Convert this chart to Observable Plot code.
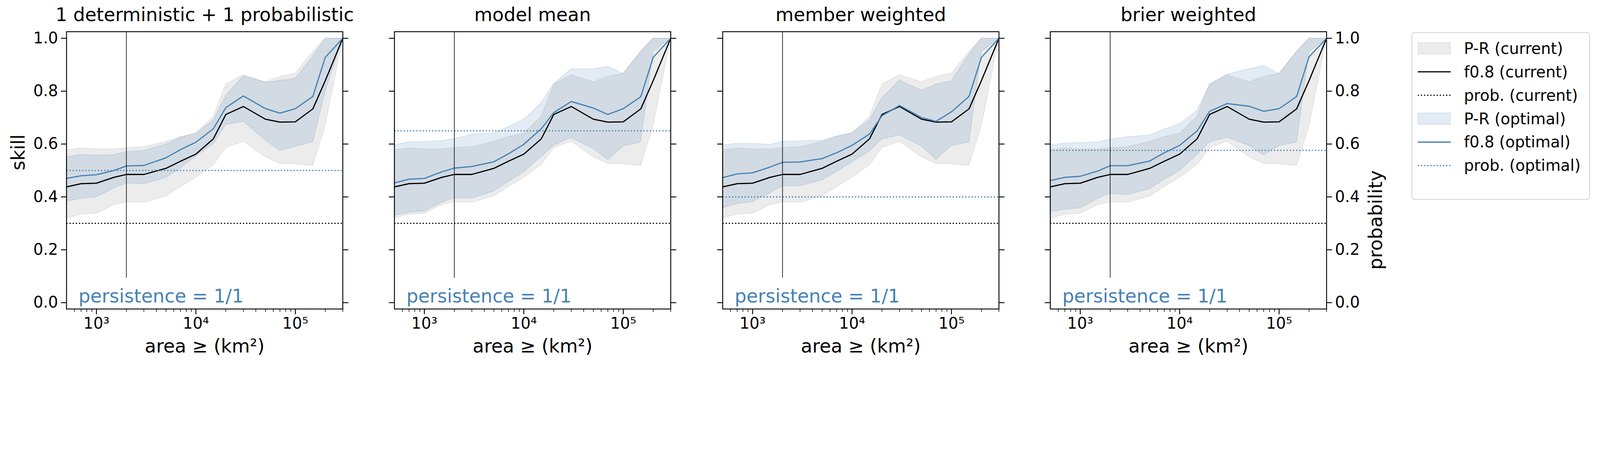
<!DOCTYPE html>
<html>
<head>
<meta charset="utf-8">
<script src="https://cdn.jsdelivr.net/npm/d3@7"></script>
<script src="https://cdn.jsdelivr.net/npm/@observablehq/plot@0.6"></script>
<style>
  html, body { margin: 0; background: #fff; font-family: "DejaVu Sans", sans-serif; overflow: hidden; }
  #chart { position: relative; width: 5328px; height: 1218px; transform-origin: 0 0; }
  #chart svg { position: absolute; top: 0; font-family: "DejaVu Sans", sans-serif; max-width: none; }
  .legend { position: absolute; left: 4700px; top: 107px; width: 595px; height: 558px;
    border: 3px solid #d6d6d6; border-radius: 10px; box-sizing: border-box; font-size: 52px; }
  .legend .row { position: absolute; left: 18px; height: 78px; display: flex; align-items: center; }
  .legend .row span { margin-left: 44px; white-space: nowrap; }
</style>
</head>
<body>
<div id="chart"></div>
<script>
// x positions (km²)
const area = [500, 700, 1000, 1500, 2000, 3000, 5000, 7000, 1e4, 1.5e4, 2e4, 3e4, 5e4, 7e4, 1e5, 1.5e5, 2e5, 3e5];

// current setup (same in every panel)
const curLine = [0.438, 0.45, 0.452, 0.474, 0.485, 0.485, 0.508, 0.535, 0.562, 0.62, 0.712, 0.742, 0.694, 0.683, 0.684, 0.733, 0.84, 1.0];
const curLo = [0.319, 0.334, 0.337, 0.37, 0.381, 0.379, 0.403, 0.438, 0.474, 0.521, 0.586, 0.61, 0.551, 0.526, 0.524, 0.518, 0.668, 1.0];
const curHi = [0.577, 0.585, 0.581, 0.581, 0.586, 0.59, 0.609, 0.628, 0.641, 0.705, 0.826, 0.862, 0.835, 0.856, 0.867, 0.95, 1.0, 1.0];
const curProb = 0.3;

// optimal, per panel
const titles = ["1 deterministic + 1 probabilistic", "model mean", "member weighted", "brier weighted"];
const optProb = [0.5, 0.65, 0.4, 0.576];
const optLine = [
  [0.47, 0.48, 0.484, 0.5, 0.517, 0.519, 0.548, 0.579, 0.607, 0.658, 0.738, 0.782, 0.734, 0.717, 0.734, 0.78, 0.928, 1.0],
  [0.453, 0.467, 0.47, 0.495, 0.509, 0.515, 0.533, 0.563, 0.599, 0.658, 0.719, 0.761, 0.736, 0.712, 0.734, 0.779, 0.928, 1.0],
  [0.473, 0.487, 0.491, 0.513, 0.531, 0.532, 0.545, 0.567, 0.595, 0.638, 0.707, 0.746, 0.7, 0.686, 0.722, 0.78, 0.928, 1.0],
  [0.462, 0.474, 0.478, 0.498, 0.518, 0.518, 0.536, 0.567, 0.595, 0.65, 0.724, 0.753, 0.743, 0.724, 0.734, 0.78, 0.93, 1.0]
];
const optLo = [
  [0.384, 0.394, 0.4, 0.434, 0.452, 0.449, 0.474, 0.509, 0.555, 0.601, 0.674, 0.685, 0.615, 0.575, 0.591, 0.608, 0.8, 1.0],
  [0.329, 0.342, 0.346, 0.379, 0.397, 0.395, 0.422, 0.458, 0.495, 0.553, 0.596, 0.624, 0.582, 0.541, 0.592, 0.607, 0.95, 1.0],
  [0.358, 0.375, 0.381, 0.415, 0.442, 0.442, 0.464, 0.496, 0.532, 0.573, 0.619, 0.634, 0.592, 0.542, 0.594, 0.607, 0.95, 1.0],
  [0.344, 0.353, 0.358, 0.394, 0.413, 0.408, 0.431, 0.466, 0.5, 0.56, 0.608, 0.625, 0.594, 0.558, 0.594, 0.607, 0.95, 1.0]
];
const optHi = [
  [0.551, 0.56, 0.557, 0.559, 0.571, 0.575, 0.599, 0.625, 0.639, 0.69, 0.784, 0.857, 0.833, 0.84, 0.848, 0.932, 1.0, 1.0],
  [0.596, 0.608, 0.608, 0.613, 0.62, 0.636, 0.641, 0.665, 0.693, 0.756, 0.828, 0.884, 0.884, 0.893, 0.866, 0.95, 1.0, 1.0],
  [0.596, 0.602, 0.602, 0.598, 0.609, 0.611, 0.614, 0.63, 0.643, 0.69, 0.775, 0.841, 0.803, 0.826, 0.839, 0.94, 1.0, 1.0],
  [0.596, 0.603, 0.605, 0.607, 0.618, 0.627, 0.634, 0.656, 0.676, 0.727, 0.825, 0.864, 0.884, 0.896, 0.866, 0.95, 1.0, 1.0]
];

const majorTicks = [1e3, 1e4, 1e5];
const minorTicks = [600, 700, 800, 900, 2000, 3000, 4000, 5000, 6000, 7000, 8000, 9000,
  2e4, 3e4, 4e4, 5e4, 6e4, 7e4, 8e4, 9e4, 2e5, 3e5];
const yTicks = [0, 0.2, 0.4, 0.6, 0.8, 1.0];

const blue = "#4682b4";
const plotLefts = [221, 1313, 2406, 3497];
const plotWidth = 920;
const sup = { "3": "³", "4": "⁴", "5": "⁵" };

const chart = document.getElementById("chart");
// fit the 5328px-wide layout to whatever the viewport really is
chart.style.transform = `scale(${window.innerWidth / 5328})`;

titles.forEach((title, i) => {
  const mL = i === 0 ? 221 : 60;
  const mR = i === 3 ? 260 : 60;
  const cur = area.map((a, k) => ({ a, v: curLine[k], lo: curLo[k], hi: curHi[k] }));
  const opt = area.map((a, k) => ({ a, v: optLine[i][k], lo: optLo[i][k], hi: optHi[i][k] }));
  const blank = () => "";

  const plot = Plot.plot({
    width: mL + plotWidth + mR,
    height: 1218,
    marginTop: 105,
    marginBottom: 190,
    marginLeft: mL,
    marginRight: mR,
    style: { fontSize: "52px", fontFamily: "DejaVu Sans", overflow: "visible" },
    x: { type: "log", domain: [500, 3e5], axis: null, label: null },
    y: { domain: [-0.024, 1.025], axis: null, label: null },
    marks: [
      Plot.areaY(cur, { x: "a", y1: "lo", y2: "hi", fill: "grey", fillOpacity: 0.15, stroke: "grey", strokeOpacity: 0.12, strokeWidth: 3 }),
      Plot.areaY(opt, { x: "a", y1: "lo", y2: "hi", fill: blue, fillOpacity: 0.15, stroke: blue, strokeOpacity: 0.15, strokeWidth: 3 }),
      Plot.line(cur, { x: "a", y: "v", stroke: "black", strokeWidth: 4 }),
      Plot.line(opt, { x: "a", y: "v", stroke: blue, strokeWidth: 4 }),
      Plot.ruleY([curProb], { stroke: "black", strokeWidth: 4, strokeDasharray: "4 6.5" }),
      Plot.ruleY([optProb[i]], { stroke: blue, strokeWidth: 4, strokeDasharray: "4 6.5" }),
      Plot.ruleX([2000], { y1: 0.094, y2: 1.025, stroke: "black", strokeWidth: 2 }),
      Plot.text(["persistence = 1/1"], { frameAnchor: "bottom-left", dx: 40, dy: -22, fill: blue, fontSize: 62 }),
      Plot.frame({ stroke: "black", strokeWidth: 3 }),
      Plot.axisX(majorTicks, { label: null, tickSize: 18, strokeWidth: 3, tickPadding: 10, fontSize: 52, tickFormat: d => "10" + sup[String(Math.round(Math.log10(d)))] }),
      Plot.axisX(minorTicks, { label: null, tickSize: 10, strokeWidth: 2, tickFormat: blank }),
      Plot.axisY(yTicks, { label: null, anchor: "left", tickSize: 18, strokeWidth: 3, tickPadding: 10, fontSize: 52, tickFormat: i === 0 ? d3.format(".1f") : blank }),
      Plot.axisY(yTicks, { label: null, anchor: "right", tickSize: 18, strokeWidth: 3, tickPadding: 10, fontSize: 52, tickFormat: i === 3 ? d3.format(".1f") : blank }),
      Plot.text([title], { frameAnchor: "top", dy: -55, fontSize: 62, lineAnchor: "middle" }),
      Plot.text(["area ≥ (km²)"], { frameAnchor: "bottom", dy: 125, fontSize: 62, lineAnchor: "middle" }),
      i === 0 ? Plot.text(["skill"], { frameAnchor: "left", dx: -160, rotate: -90, fontSize: 62, lineAnchor: "middle" }) : null,
      i === 3 ? Plot.text(["probability"], { frameAnchor: "right", dx: 165, rotate: -90, fontSize: 62, lineAnchor: "middle" }) : null
    ]
  });
  plot.style.left = (plotLefts[i] - mL) + "px";
  chart.appendChild(plot);
});

// legend
const legendItems = [
  { label: "P-R (current)", kind: "patch", color: "grey" },
  { label: "f0.8 (current)", kind: "line", color: "black" },
  { label: "prob. (current)", kind: "dot", color: "black" },
  { label: "P-R (optimal)", kind: "patch", color: blue },
  { label: "f0.8 (optimal)", kind: "line", color: blue },
  { label: "prob. (optimal)", kind: "dot", color: blue }
];
const legend = document.createElement("div");
legend.className = "legend";
legendItems.forEach((d, k) => {
  const row = document.createElement("div");
  row.className = "row";
  row.style.top = (12 + k * 78) + "px";
  let sw;
  if (d.kind === "patch") {
    sw = `<rect x="1" y="8" width="108" height="38" fill="${d.color}" fill-opacity="0.15" stroke="${d.color}" stroke-opacity="0.15" stroke-width="3"/>`;
  } else if (d.kind === "line") {
    sw = `<line x1="0" x2="110" y1="27" y2="27" stroke="${d.color}" stroke-width="4"/>`;
  } else {
    sw = `<line x1="0" x2="110" y1="27" y2="27" stroke="${d.color}" stroke-width="4" stroke-dasharray="4 6.5"/>`;
  }
  row.innerHTML = `<svg width="110" height="54" style="position:static">${sw}</svg><span>${d.label}</span>`;
  legend.appendChild(row);
});
chart.appendChild(legend);
</script>
</body>
</html>
